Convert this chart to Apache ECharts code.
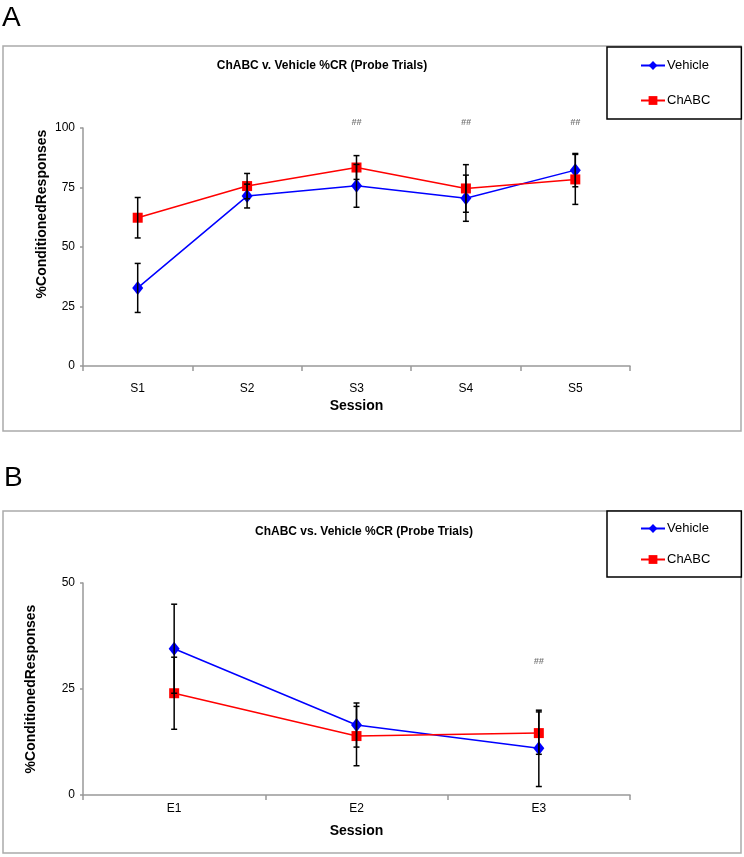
<!DOCTYPE html>
<html>
<head>
<meta charset="utf-8">
<script src="https://cdn.jsdelivr.net/npm/echarts@6/dist/echarts.min.js"></script>
<style>
html,body{margin:0;padding:0;background:#fff;}
#chart{width:744px;height:857px;}
</style>
</head>
<body>
<div id="chart"></div>
<script>
// ---- Panel A data ----
var sessionsA = ['S1', 'S2', 'S3', 'S4', 'S5'];
var vehicleA = [32.8, 71.4, 75.7, 70.5, 82.3];
var vehicleErrA = [10.3, 5.0, 9.0, 9.7, 7.0];
var chabcA = [62.3, 75.6, 83.4, 74.6, 78.4];
var chabcErrA = [8.5, 5.3, 5.0, 10.0, 10.5];
var sigA = ['S3', 'S4', 'S5'];
var sigValA = 102.5;
var yTicksA = [0, 25, 50, 75, 100];

// ---- Panel B data ----
var sessionsB = ['E1', 'E2', 'E3'];
var vehicleB = [34.5, 16.5, 11.0];
var vehicleErrB = [10.5, 5.2, 9.0];
var chabcB = [24.0, 13.9, 14.6];
var chabcErrB = [8.5, 7.0, 5.0];
var sigB = ['E3'];
var sigValB = 31.5;
var yTicksB = [0, 25, 50];

var BLUE = '#0000ff', RED = '#ff0000';
var FONT = 'Liberation Sans, Arial, sans-serif';

function errData(cats, vals, errs) {
  return vals.map(function (v, i) { return [i, v - errs[i], v + errs[i]]; });
}
function errSeries(xi, data) {
  return {
    type: 'custom', xAxisIndex: xi, yAxisIndex: xi, z: 5, silent: true,
    renderItem: function (params, api) {
      var lo = api.coord([api.value(0), api.value(1)]);
      var hi = api.coord([api.value(0), api.value(2)]);
      var w = 3;
      var st = { stroke: '#000', lineWidth: 1.5 };
      return { type: 'group', children: [
        { type: 'line', shape: { x1: lo[0], y1: lo[1], x2: hi[0], y2: hi[1] }, style: st },
        { type: 'line', shape: { x1: lo[0] - w, y1: lo[1], x2: lo[0] + w, y2: lo[1] }, style: st },
        { type: 'line', shape: { x1: hi[0] - w, y1: hi[1], x2: hi[0] + w, y2: hi[1] }, style: st }
      ]};
    },
    encode: { x: 0, y: [1, 2] },
    data: data
  };
}
function lineSeries(name, xi, vals, color, symbol, size) {
  return {
    name: name, type: 'line', xAxisIndex: xi, yAxisIndex: xi, z: 4,
    data: vals, symbol: symbol, symbolSize: size, showSymbol: true,
    lineStyle: { color: color, width: 1.5 }, itemStyle: { color: color },
    emphasis: { disabled: true }, animation: false
  };
}
function sigSeries(xi, cats, val) {
  return {
    type: 'scatter', xAxisIndex: xi, yAxisIndex: xi, clip: false, symbolSize: 1,
    itemStyle: { color: 'rgba(0,0,0,0)' }, silent: true,
    data: cats.map(function (c) { return [c, val]; }),
    label: { show: true, position: 'inside', formatter: '##', fontSize: 9, fontStyle: 'italic', fontWeight: 'bold', color: '#555', fontFamily: FONT }
  };
}
function xAxisCfg(gi, cats, margin, nameGap) {
  return {
    gridIndex: gi, type: 'category', data: cats, boundaryGap: true,
    axisLine: { lineStyle: { color: '#999', width: 1.5 } },
    axisTick: { show: true, length: 5, lineStyle: { color: '#999', width: 1.5 } },
    axisLabel: { color: '#000', fontSize: 12, margin: margin, fontFamily: FONT },
    splitLine: { show: false },
    name: 'Session', nameLocation: 'middle', nameGap: nameGap, nameMoveOverlap: false,
    nameTextStyle: { color: '#000', fontSize: 14, fontWeight: 'bold', fontFamily: FONT }
  };
}
function yAxisCfg(gi, ticks, nameGap, pad) {
  return {
    gridIndex: gi, type: 'value', min: ticks[0], max: ticks[ticks.length - 1], interval: ticks[1] - ticks[0],
    axisLine: { show: true, lineStyle: { color: '#999', width: 1.5 } },
    axisTick: { show: true, length: 3, lineStyle: { color: '#999', width: 1.5 } },
    axisLabel: { color: '#000', fontSize: 12, margin: 8, fontFamily: FONT },
    splitLine: { show: false },
    name: '%ConditionedResponses', nameLocation: 'middle', nameGap: nameGap, nameRotate: 90,
    nameMoveOverlap: false,
    nameTextStyle: { color: '#000', fontSize: 14, fontWeight: 'bold', fontFamily: FONT, padding: pad }
  };
}
function legendCfg(top, gap, pad) {
  return {
    left: 607, top: top, orient: 'vertical', data: ['Vehicle', 'ChABC'],
    itemWidth: 24, itemHeight: 11, itemGap: gap,
    padding: pad,
    borderColor: '#000', borderWidth: 1.5, backgroundColor: '#fff',
    textStyle: { color: '#000', fontSize: 13, fontFamily: FONT, padding: [0, 0, 0, -3] },
    selectedMode: false
  };
}

var chart = echarts.init(document.getElementById('chart'), null, { renderer: 'canvas' });
chart.setOption({
  animation: false,
  backgroundColor: '#fff',
  graphic: [
    { type: 'rect', shape: { x: 3, y: 46, width: 738, height: 385 }, style: { fill: 'none', stroke: '#aaa', lineWidth: 1.5 }, z: -1 },
    { type: 'rect', shape: { x: 3, y: 511, width: 738, height: 342 }, style: { fill: 'none', stroke: '#aaa', lineWidth: 1.5 }, z: -1 },
    { type: 'text', left: 2, top: 4, style: { text: 'A', fontSize: 28, fontFamily: FONT, fill: '#000' } },
    { type: 'text', left: 4, top: 464, style: { text: 'B', fontSize: 28, fontFamily: FONT, fill: '#000' } }
  ],
  title: [
    { text: 'ChABC v. Vehicle %CR (Probe Trials)', left: 317, top: 55, textAlign: 'center',
      textStyle: { fontSize: 12, fontWeight: 'bold', color: '#000', fontFamily: FONT } },
    { text: 'ChABC vs. Vehicle %CR (Probe Trials)', left: 359, top: 521, textAlign: 'center',
      textStyle: { fontSize: 12, fontWeight: 'bold', color: '#000', fontFamily: FONT } }
  ],
  legend: [ legendCfg(47, 22, [12, 31, 12, 33]), legendCfg(511, 18, [11, 31, 11, 33]) ],
  grid: [
    { left: 83, right: 114, top: 128, bottom: 491 },
    { left: 83, right: 114, top: 583, bottom: 62 }
  ],
  xAxis: [ xAxisCfg(0, sessionsA, 17, 33), xAxisCfg(1, sessionsB, 8, 29) ],
  yAxis: [ yAxisCfg(0, yTicksA, 34, [0, 0, 0, 66]), yAxisCfg(1, yTicksB, 45, [0, 0, 0, 0]) ],
  series: [
    lineSeries('Vehicle', 0, vehicleA, BLUE, 'diamond', [11, 14]),
    lineSeries('ChABC', 0, chabcA, RED, 'rect', 10),
    errSeries(0, errData(sessionsA, vehicleA, vehicleErrA)),
    errSeries(0, errData(sessionsA, chabcA, chabcErrA)),
    sigSeries(0, sigA, sigValA),
    lineSeries('Vehicle', 1, vehicleB, BLUE, 'diamond', [11, 14]),
    lineSeries('ChABC', 1, chabcB, RED, 'rect', 10),
    errSeries(1, errData(sessionsB, vehicleB, vehicleErrB)),
    errSeries(1, errData(sessionsB, chabcB, chabcErrB)),
    sigSeries(1, sigB, sigValB)
  ]
});
</script>
</body>
</html>
